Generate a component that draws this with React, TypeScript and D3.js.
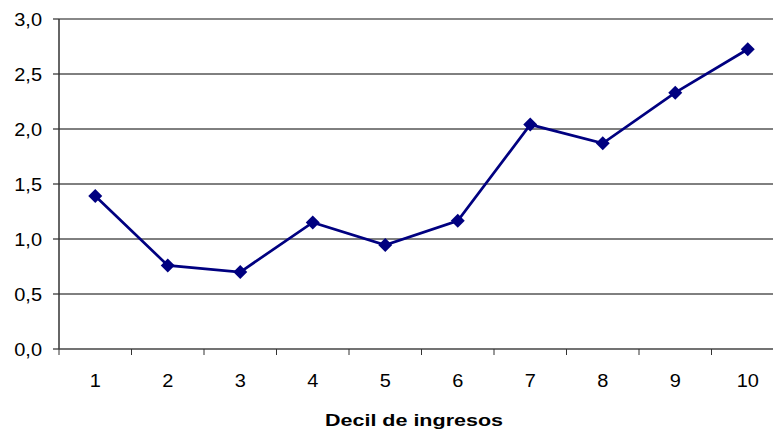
import React from "react";
import * as d3 from "d3";

const categories = ["1", "2", "3", "4", "5", "6", "7", "8", "9", "10"];
const values = [1.39, 0.76, 0.7, 1.15, 0.945, 1.165, 2.04, 1.87, 2.33, 2.725];
const yTicks = [0, 0.5, 1, 1.5, 2, 2.5, 3];
const xTitle = "Decil de ingresos";

export default function App() {
  const W = 773, H = 432;
  const left = 59, top = 19, bottom = 349;
  const bandW = 72.5;
  const x = d3.scaleBand<string>().domain(categories).range([left, left + bandW * categories.length]);
  const y = d3.scaleLinear().domain([0, 3]).range([bottom, top]);
  const line = d3.line<number>()
    .x((_, i) => (x(categories[i]) as number) + x.bandwidth() / 2)
    .y((v) => y(v));
  const right = left + bandW * categories.length;
  const font = "'Liberation Sans', Arial, sans-serif";
  const s = 7;
  const fs = 18.5;
  return (
    <svg width={W} height={H} style={{ position: "absolute", left: 0, top: 0, background: "#fff" }}>
      {yTicks.map((t) => (
        <g key={t}>
          {t > 0 && (
            <line x1={left} x2={right} y1={y(t)} y2={y(t)}
              stroke={t === 3 ? "#888" : "#000"} strokeWidth={t === 3 ? 2 : 1} />
          )}
          <line x1={left - 6} x2={left} y1={y(t)} y2={y(t)} stroke="#000" strokeWidth={1} />
          <g transform={`translate(42,${y(t)}) scale(1.08,1)`}>
            <text x={0} y={0} dy="0.36em" textAnchor="end" fontFamily={font} fontSize={fs} fill="#000">
              {d3.format(".1f")(t).replace(".", ",")}
            </text>
          </g>
        </g>
      ))}
      <line x1={left} x2={left} y1={top} y2={bottom} stroke="#333" strokeWidth={1.5} />
      <line x1={left} x2={right} y1={bottom} y2={bottom} stroke="#444" strokeWidth={1.5} />
      {categories.map((c, i) => (
        <g key={c}>
          <line x1={(x(c) as number) + bandW} x2={(x(c) as number) + bandW} y1={bottom} y2={bottom + 6} stroke="#333" strokeWidth={1} />
          {i === 0 && <line x1={left} x2={left} y1={bottom} y2={bottom + 6} stroke="#333" strokeWidth={1} />}
          <g transform={`translate(${(x(c) as number) + x.bandwidth() / 2},387) scale(1.08,1)`}>
            <text x={0} y={0} textAnchor="middle" fontFamily={font} fontSize={fs} fill="#000">
              {c}
            </text>
          </g>
        </g>
      ))}
      <path d={line(values) || ""} fill="none" stroke="#000080" strokeWidth={2.7} />
      {values.map((v, i) => {
        const cx = (x(categories[i]) as number) + x.bandwidth() / 2;
        const cy = y(v);
        return (
          <path key={i} d={`M${cx},${cy - s}L${cx + s},${cy}L${cx},${cy + s}L${cx - s},${cy}Z`} fill="#000080" />
        );
      })}
      <text x={325} y={426} fontFamily={font} fontSize={17} fontWeight="bold" fill="#000"
        textLength={178} lengthAdjust="spacingAndGlyphs">
        {xTitle}
      </text>
    </svg>
  );
}
